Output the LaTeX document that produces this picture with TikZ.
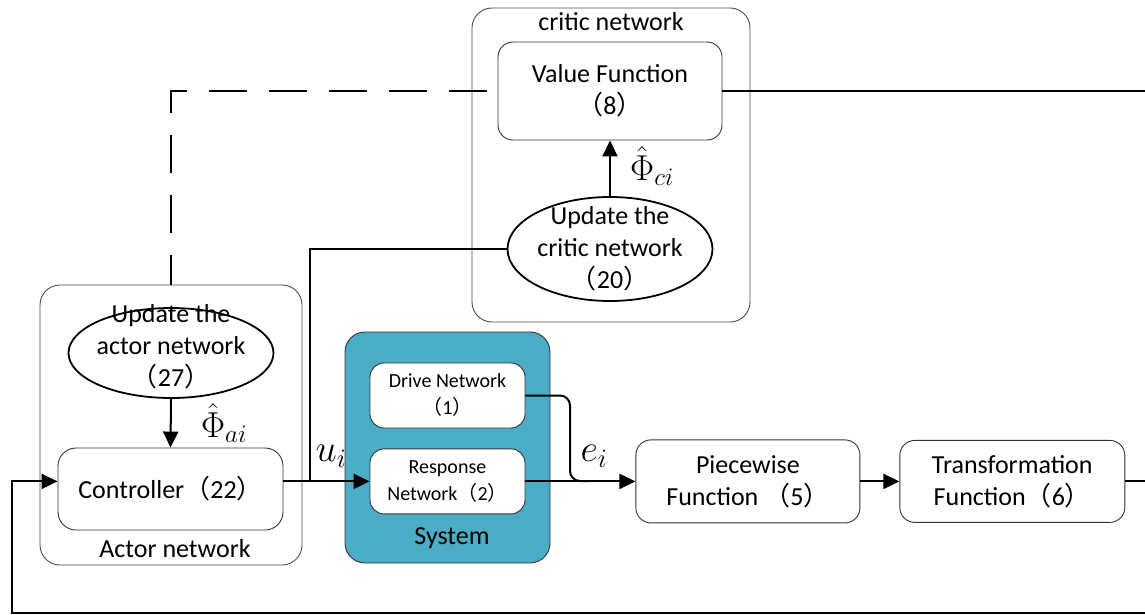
\RequirePackage{fix-cm}
\documentclass[tikz,border=0pt]{standalone}
\usepackage{fontspec}
\setmainfont{Carlito}
\newfontfamily\cjk{Noto Sans CJK SC}
\usepackage{xcolor}
\usetikzlibrary{arrows.meta,positioning,shapes.geometric}
\definecolor{systemblue}{HTML}{4BACC6}
\newcommand{\refno}[1]{{\cjk （}#1{\cjk ）}}

\begin{document}
\begin{tikzpicture}[
    x=1pt, y=-1pt,
    font=\fontsize{26}{32}\selectfont,
    block/.style={draw=black!80, line width=0.9pt, rounded corners=15pt, fill=white, align=center},
    netbox/.style={block, minimum width=155pt, minimum height=65pt, rounded corners=14pt, font=\fontsize{20}{27}\selectfont},
    outerbox/.style={draw=black!70, line width=0.9pt, rounded corners=20pt},
    update/.style={ellipse, draw, line width=1.8pt, minimum width=205pt},
    arrow/.style={-{Triangle[length=16pt,width=15pt]}, line width=2pt},
    link/.style={line width=2pt},
    mathlabel/.style={font=\fontsize{36}{36}\selectfont, inner sep=0pt}
  ]
    \useasboundingbox[fill=white] (0,0) rectangle (1145,615);

    % critic network
    \node[outerbox, minimum width=278pt, minimum height=314pt] (critic) at (611,165) {};
    \node (critictitle) at (611,22) {critic network};
    \node[block, minimum width=224pt, minimum height=98pt] (value) at (610,91) {Value Function\\\refno{8}};
    \node[update, minimum height=104pt] (cupdate) at (610,249) {};
    \node[align=center] (cupdatetext) at (cupdate) {Update the\\critic network\\\refno{20}};

    % actor network
    \node[outerbox, minimum width=262pt, minimum height=280pt] (actor) at (171,425) {};
    \node (actortitle) at (175,549) {Actor network};
    \node[update, minimum height=90pt] (aupdate) at (171,353) {};
    \node[align=center] (aupdatetext) at (171,347) {Update the\\actor network\\\refno{27}};
    \node[block, minimum width=225pt, minimum height=82pt, rounded corners=18pt] (controller) at (170.5,489) {Controller\refno{22}};

    % system
    \node[outerbox, draw=black!80, fill=systemblue, minimum width=205pt, minimum height=231pt] (system) at (447.5,447.5) {};
    \node (systemtitle) at (452,538) {System};
    \node[netbox] (drive) at (447.5,395.5) {Drive Network\\\refno{1}};
    \node[netbox, below=20pt of drive] (response) {Response\\Network\refno{2}};

    % output chain
    \node[block, minimum width=224pt, minimum height=83pt, right=110pt of response] (piece) {Piecewise\\Function \refno{5}};
    \node[block, minimum width=225pt, minimum height=82pt, right=39pt of piece] (trans) {Transformation\\Function\refno{6}};

    \coordinate (ujoin) at (310,481);
    \coordinate (ejoin) at (570,481);
    \coordinate (loopright) at (1165,613);
    \coordinate (loopleft) at (12,613);

    % connectors
    \draw[arrow] (cupdate.north) -- (value.south);
    \draw[arrow] (aupdate.south) -- (controller.north);
    \draw[link, dash pattern=on 38pt off 22pt] ([xshift=-11pt]value.west) -| (actor.north -| aupdate);
    \draw[link] (cupdate.west) -| (ujoin);
    \draw[arrow] (controller.east |- response.west) -- (response.west);
    \draw[link, rounded corners=10pt] (drive.east) -| (ejoin) -- ++(20,0);
    \draw[arrow] (response.east) -- (piece.west);
    \draw[arrow] (piece.east) -- (trans.west |- piece.east);
    \draw[link] (value.east) -- ++(450,0);
    \draw[arrow] (trans.east |- piece.east) -| (loopright) -- (loopleft) |- (controller.west |- response.west);

    % labels
    \node[mathlabel] (phic) at (652,166) {$\hat{\Phi}_{ci}$};
    \node[mathlabel] (phia) at (224,423) {$\hat{\Phi}_{ai}$};
    \node[mathlabel, font=\fontsize{38}{38}\selectfont] (ulabel) at (331,456) {$u_i$};
    \node[mathlabel, font=\fontsize{38}{38}\selectfont] (elabel) at (594,456) {$e_i$};
\end{tikzpicture}
\end{document}
